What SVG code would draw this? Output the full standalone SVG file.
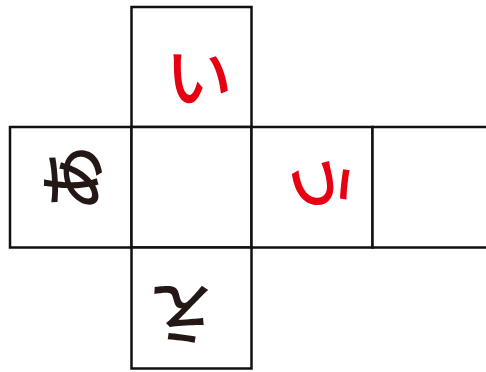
<svg xmlns="http://www.w3.org/2000/svg" width="486" height="372" viewBox="0 0 486 372">
<style>
.face{fill:#fff;stroke:#111;stroke-width:2.5}
.ch{font-family:"Noto Sans CJK JP","Noto Sans CJK SC",sans-serif;font-size:67px;font-weight:500;text-anchor:middle;dominant-baseline:central}
.red{fill:#e60012}
.blk{fill:#231815}
</style>
<rect width="486" height="372" fill="#fff"/>
<g id="face-top"><rect class="face" x="131.5" y="7" width="120" height="120"/>
<text class="ch red" x="199" y="72">い</text></g>
<g id="face-left"><rect class="face" x="10" y="127" width="121.5" height="120.5"/>
<text class="ch blk" x="68" y="178" transform="rotate(-90 68 178)">あ</text></g>
<g id="face-center"><rect class="face" x="131.5" y="127" width="120" height="120.5"/></g>
<g id="face-right"><rect class="face" x="251.5" y="127" width="121" height="120.5"/>
<text class="ch red" x="325" y="184" transform="rotate(90 325 184)">う</text></g>
<g id="face-far"><rect class="face" x="372.5" y="127" width="120" height="120.5"/></g>
<g id="face-bottom"><rect class="face" x="131.5" y="247.5" width="120" height="121"/>
<text class="ch blk" x="182" y="318" transform="rotate(180 182 318)">え</text></g>
</svg>
